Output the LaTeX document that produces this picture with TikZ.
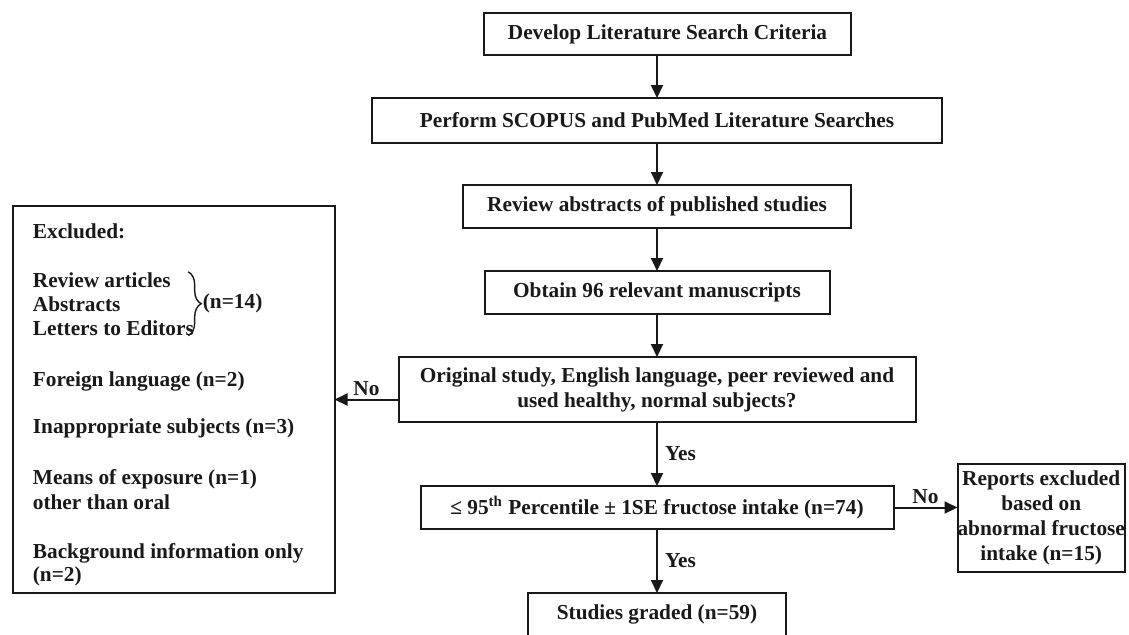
\documentclass[tikz,border=0pt]{standalone}
\usepackage{fontspec}
\setmainfont{Liberation Serif}
\usetikzlibrary{positioning, arrows.meta, decorations.pathreplacing}
\tikzset{
	arrow/.style={-{Triangle[length=6.5pt, width=6pt]}, line width=1pt, draw=black!90}
}

\begin{document}
\begin{tikzpicture}[
		box/.style={draw=black!90, line width=1pt, align=center, inner sep=0pt, outer sep=0pt, minimum height=21.5pt, font=\fontsize{10.65}{12.5}\selectfont\bfseries, text=black!90},
		exline/.style={inner sep=0pt, anchor=base west, font=\fontsize{10.65}{12.5}\selectfont\bfseries, text=black!90},
		answer/.style={font=\fontsize{10.65}{12.5}\selectfont\bfseries, text=black!90, inner sep=1.5pt},
		groupbrace/.style={decorate, decoration={brace, amplitude=6.5pt}, line width=0.7pt, draw=black!90}
		]
		\useasboundingbox (0,0) rectangle (564.5pt,-317pt);
		
		\node[box, minimum width=183.5pt, minimum height=21pt] (develop) at (333.75pt,-17pt) {Develop Literature Search Criteria};
		\node[box, minimum width=285pt, minimum height=22.5pt, below=21.5pt of develop, xshift=-5.25pt] (search) {Perform SCOPUS and PubMed Literature Searches};
		\node[box, minimum width=194pt, below=21pt of search] (review) {Review abstracts of published studies};
		\node[box, minimum width=172.5pt, below=21.5pt of review] (obtain) {Obtain 96 relevant manuscripts};
		\node[box, minimum width=258.5pt, minimum height=32.5pt, below=21.5pt of obtain] (original) {Original study, English language, peer reviewed and\\ used healthy, normal subjects?};
		\node[box, minimum width=236.5pt, below=32pt of original] (pctl) {≤ 95\textsuperscript{th} Percentile ± 1SE fructose intake (n=74)};
		\node[box, minimum width=129pt, below=32pt of pctl] (graded) {Studies graded (n=59)};
		
		\node[box, minimum width=83.5pt, minimum height=54pt, right=32pt of pctl, yshift=-5.25pt] (reports) {Reports excluded\\ based on\\ abnormal fructose\\ intake (n=15)};
		\node[box, minimum width=161pt, minimum height=193.5pt, left=32pt of original, yshift=-5pt] (excl) {};
		
		\node[exline] (ex1) at ([xshift=10pt, yshift=-16pt]excl.north west) {Excluded:};
		\node[exline] (ex2) at ([yshift=-24.5pt]ex1.base west) {Review articles};
		\node[exline] (ex3) at ([yshift=-12pt]ex2.base west) {Abstracts};
		\node[exline] (ex4) at ([yshift=-12pt]ex3.base west) {Letters to Editors};
		\node[exline] (ex5) at ([yshift=-25.8pt]ex4.base west) {Foreign language (n=2)};
		\node[exline] (ex6) at ([yshift=-23.2pt]ex5.base west) {Inappropriate subjects (n=3)};
		\node[exline] (ex7) at ([yshift=-25.5pt]ex6.base west) {Means of exposure (n=1)};
		\node[exline] (ex8) at ([yshift=-12.5pt]ex7.base west) {other than oral};
		\node[exline] (ex9) at ([yshift=-24.5pt]ex8.base west) {Background information only};
		\node[exline] (ex10) at ([yshift=-11.5pt]ex9.base west) {(n=2)};
		
		\coordinate (bracetop) at (ex4.east |- ex2.north);
		\draw[groupbrace] ([xshift=-3pt]bracetop) -- node[answer, midway, anchor=west, xshift=7pt, inner sep=0pt] (n14) {(n=14)} ([xshift=-3pt]ex4.south east);
		
		\draw[arrow] (develop.south -| search.north) -- (search.north);
		\draw[arrow] (search) -- (review);
		\draw[arrow] (review) -- (obtain);
		\draw[arrow] (obtain) -- (original);
		\draw[arrow] (original) -- node[answer, midway, right, inner sep=3.5pt] (yes1) {Yes} (pctl);
		\draw[arrow] (pctl) -- node[answer, midway, right, inner sep=3.5pt] (yes2) {Yes} (graded);
		\draw[arrow] (excl.east -| original.west) -- node[answer, midway, above] (no1) {No} (excl.east);
		\draw[arrow] (pctl.east) -- node[answer, midway, above] (no2) {No} (pctl.east -| reports.west);
		
	\end{tikzpicture}
\end{document}
